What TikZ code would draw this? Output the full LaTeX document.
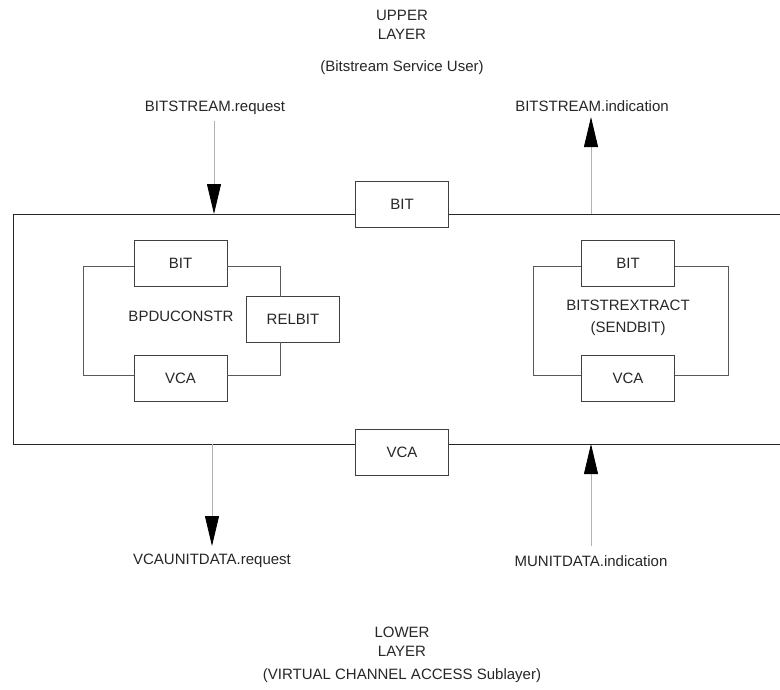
\documentclass[tikz,border=0pt]{standalone}
\usepackage{fontspec}
\setmainfont{Liberation Sans}
\usetikzlibrary{arrows.meta}
\begin{document}
\begin{tikzpicture}[x=1pt,y=-1pt,
  every node/.style={font=\fontsize{15}{18}\selectfont, text=black!85},
  lbl/.style={inner sep=0pt, align=center},
  blk/.style={draw=black!75, line width=0.85pt, minimum width=93pt, minimum height=46pt, inner sep=0pt, fill=white},
  frame/.style={draw=black!85, line width=0.9pt},
  wire/.style={draw=black!65, line width=0.9pt},
  shaft/.style={draw=black!30, line width=0.8pt, -{Triangle[length=30pt,width=14pt,color=black]}}
]
\useasboundingbox (0,0) rectangle (780,689);

% upper / lower layer texts
\node[lbl] (upper) at (402,25) {UPPER\\[1pt]LAYER};
\node[lbl] (uuser) at (402,68) {(Bitstream Service User)};
\node[lbl] (lower) at (402,642) {LOWER\\[1pt]LAYER};
\node[lbl] (lsub) at (402,676) {(VIRTUAL CHANNEL ACCESS Sublayer)};

% primitive labels
\node[lbl] (breq) at (215,108) {BITSTREAM.request};
\node[lbl] (bind) at (592,106) {BITSTREAM.indication};
\node[lbl] (vreq) at (212,561) {VCAUNITDATA.request};
\node[lbl] (mind) at (591,561) {MUNITDATA.indication};

% outer frame boxes
\node[blk] (tbit) at (402,204) {BIT};
\node[blk] (bvca) at (402,452) {VCA};

\coordinate (tl) at (13,214);
\coordinate (bl) at (13,444);
\coordinate (tr) at (780,214);
\coordinate (br) at (780,444);
\draw[frame] (tbit.west |- tl) -- (tl) -- (bl) -- (bvca.west |- bl);
\draw[frame] (tbit.east |- tr) -- (tr);
\draw[frame] (bvca.east |- br) -- (br);

% arrows
\coordinate (breqin) at (214,214);
\coordinate (bindout) at (591,214);
\coordinate (vreqout) at (212,444);
\coordinate (vreqend) at (212,546);
\coordinate (mindin) at (591,444);
\draw[shaft] (214,121) -- (breqin);
\draw[shaft] (bindout) -- (591,117);
\draw[shaft] (vreqout) -- (vreqend);
\draw[shaft] (591,546) -- (mindin);

% left inner block
\node[blk] (lbit) at (180.5,263) {BIT};
\node[blk] (lvca) at (180.5,378) {VCA};
\node[blk] (relbit) at (293,319.5) {RELBIT};
\node[lbl] (bpdu) at (181,316) {BPDUCONSTR};
\draw[wire] ([yshift=-3pt]lbit.west) -- (83,266) -- (83,375) -- ([yshift=3pt]lvca.west);
\draw[wire] ([yshift=-3pt]lbit.east) -- (280,266) -- (280,297);
\draw[wire] (280,342) -- (280,375) -- ([yshift=3pt]lvca.east);

% right inner block
\node[blk] (rbit) at (628,263) {BIT};
\node[blk] (rvca) at (628,378) {VCA};
\node[lbl] (bext) at (628,318) {BITSTREXTRACT\\[4pt](SENDBIT)};
\draw[wire] ([yshift=-3pt]rbit.west) -- (533,266) -- (533,375) -- ([yshift=3pt]rvca.west);
\draw[wire] ([yshift=-3pt]rbit.east) -- (728,266) -- (728,375) -- ([yshift=3pt]rvca.east);
\end{tikzpicture}
\end{document}
